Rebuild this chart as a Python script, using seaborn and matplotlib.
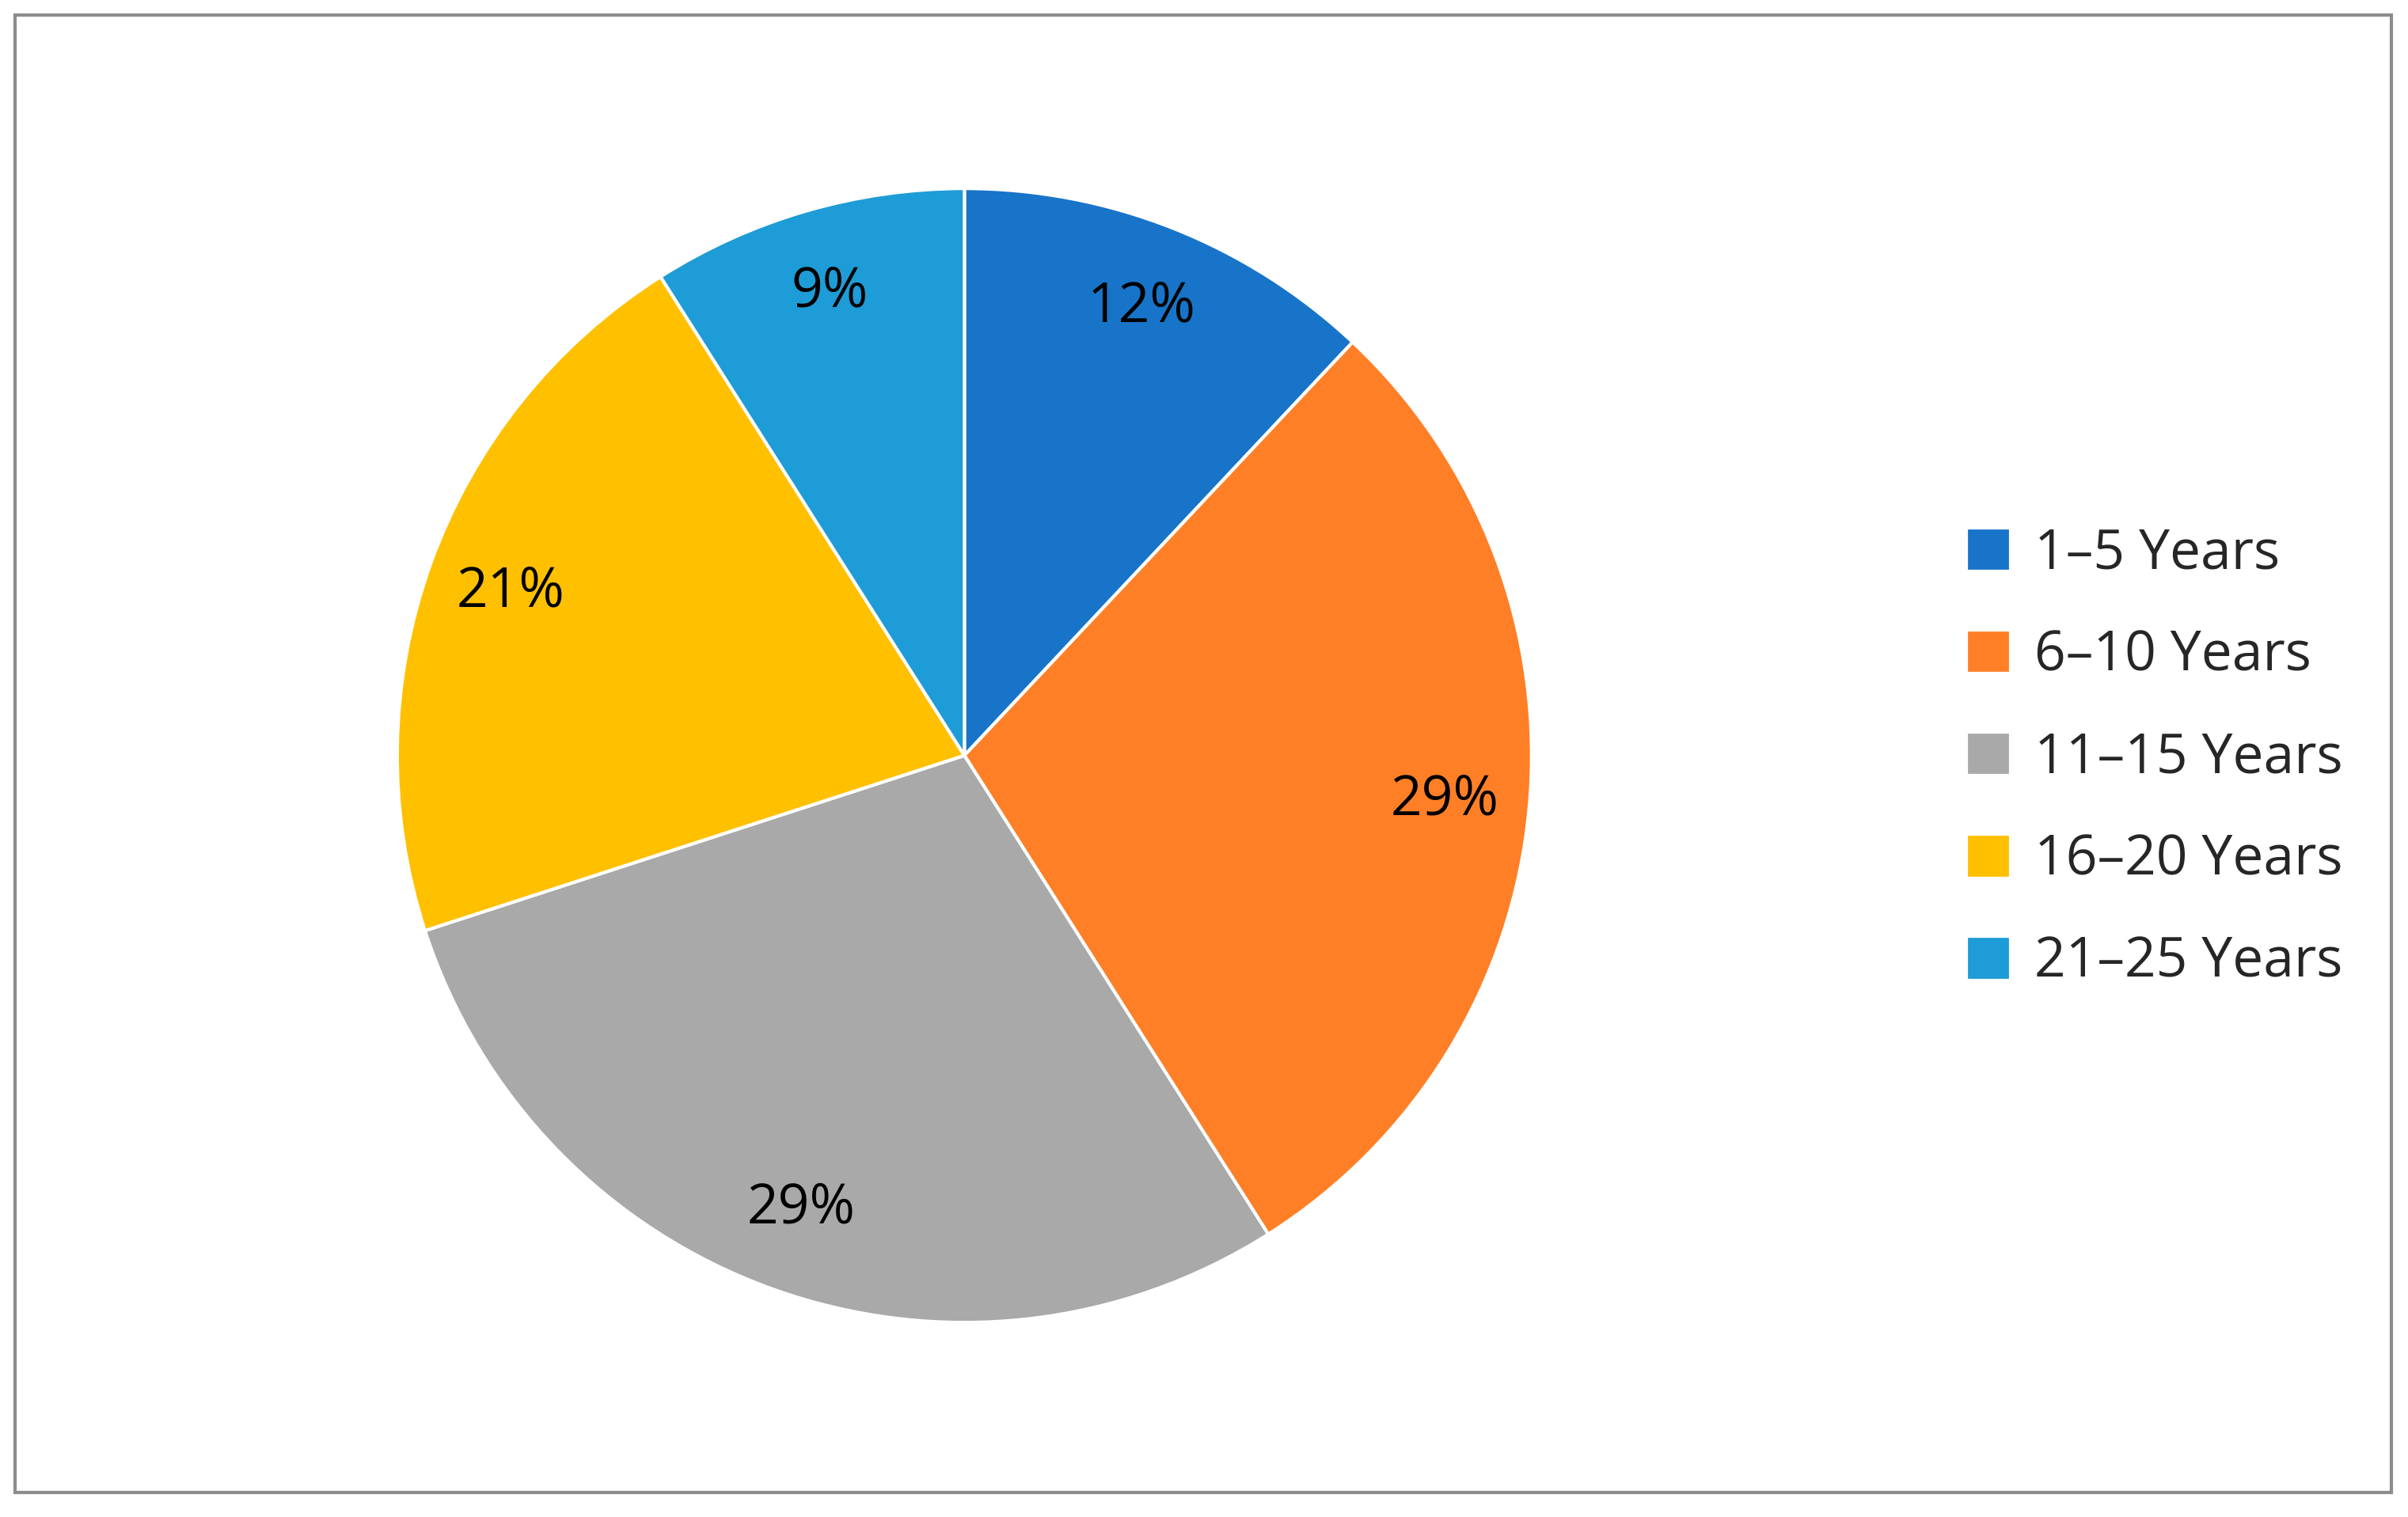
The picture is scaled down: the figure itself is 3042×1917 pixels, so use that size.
import matplotlib.pyplot as plt
import matplotlib.patches as mpatches
import seaborn as sns

# data
categories = ["1–5 Years", "6–10 Years", "11–15 Years", "16–20 Years", "21–25 Years"]
shares = [12, 29, 29, 21, 9]
colors = ["#1874C8", "#FF7F27", "#A9A9A9", "#FFC000", "#1E9CD7"]

sns.set_theme(style="white")
plt.rcParams['font.family'] = ['Open Sans', 'DejaVu Sans']

fig = plt.figure(figsize=(15.21, 9.585), dpi=200)

# outer frame
fig.patches.append(mpatches.Rectangle((0.0064, 0.016), 0.9866, 0.974, transform=fig.transFigure,
                                      fill=False, edgecolor="#8c8c8c", linewidth=1.5))

ax = fig.add_axes([0.4005 - 0.238, 0.502 - 0.3775, 0.476, 0.755])
wedges, texts, autotexts = ax.pie(shares, colors=colors, startangle=90, counterclock=False,
                                  autopct=lambda p: f"{p:.0f}%", pctdistance=0.85,
                                  wedgeprops=dict(edgecolor="white", linewidth=1.5),
                                  textprops=dict(fontsize=25, color="black"))
ax.set_xlim(-1.01, 1.01)
ax.set_ylim(-1.01, 1.01)
ax.set_aspect("equal")

handles = [mpatches.Patch(color=c, label=l) for c, l in zip(colors, categories)]
fig.legend(handles=handles, loc="center left", bbox_to_anchor=(0.797, 0.5), frameon=False,
           fontsize=25, handlelength=0.7, handleheight=0.7, handletextpad=0.5, labelspacing=0.85)

fig.savefig("out.png", dpi=200)
